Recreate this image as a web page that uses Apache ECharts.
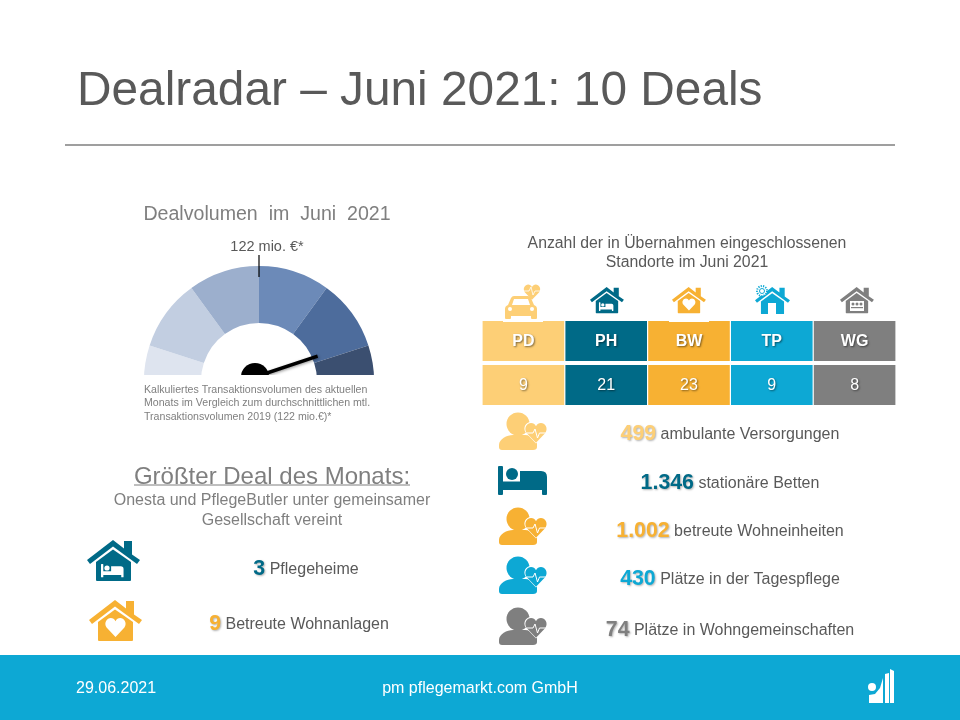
<!DOCTYPE html>
<html>
<head>
<meta charset="utf-8">
<title>Dealradar</title>
<script src="https://cdn.jsdelivr.net/npm/echarts@6/dist/echarts.min.js"></script>
<style>
html,body{margin:0;padding:0;background:#fff}
#chart{width:960px;height:720px}
</style>
</head>
<body>
<div id="chart"></div>
<script>
// gauge: six visible wedges, the rest of the ring stays empty
const gaugeSegments = [36, 36, 36, 36, 36, 36, 144];
const gaugeColors = ['#DEE4EF', '#C2CEE1', '#9CAFCD', '#6C8AB8', '#4D6C9C', '#3B4F70', 'rgba(0,0,0,0)'];
const gaugeMax = 244;
const dealVolume = 219;
const referenceVolume = 122;

// table
const typeCodes = ['PD', 'PH', 'BW', 'TP', 'WG'];
const typeCounts = [9, 21, 23, 9, 8];
const typeColors = ['#FDCF76', '#006A87', '#F7B133', '#0DA8D4', '#7F7F7F'];
const tableRows = ['codes', 'counts'];

// stats on the right
const statValues = ['499', '1.346', '1.002', '430', '74'];
const statLabels = ['ambulante Versorgungen', 'stationäre Betten', 'betreute Wohneinheiten', 'Plätze in der Tagespflege', 'Plätze in Wohngemeinschaften'];
const statY = [433, 482, 530, 578, 629];

// largest deal
const dealValues = ['3', '9'];
const dealLabels = ['Pflegeheime', 'Betreute Wohnanlagen'];

const FONT = '"Liberation Sans", Arial, sans-serif';
const GREY = '#7F7F7F';
const DARK = '#595959';

const graphics = [];   // text and chrome, graphic component
const iconEls = [];    // icon shapes, drawn by a custom series
let zc = 10;

function addPath(d, w, h, ox, oy, s, fill, stroke, lw) {
    // the zero-length anchors pin the path's box to the local w/h box
    iconEls.push({
        type: 'path',
        shape: {
            pathData: d + ` M0,0 L0,0 M${w},${h} L${w},${h}`,
            layout: 'cover',
            x: ox, y: oy, width: w * s, height: h * s
        },
        style: { fill: fill || 'none', stroke: stroke || 'none', lineWidth: lw || 0 }
    });
}

function addCircle(cx, cy, r, fill, stroke, lw, dash) {
    iconEls.push({
        type: 'circle',
        shape: { cx, cy, r },
        style: { fill: fill || 'none', stroke: stroke || 'none', lineWidth: lw || 0, lineDash: dash || null }
    });
}

function addRect(x, y, width, height, fill) {
    iconEls.push({ type: 'rect', shape: { x, y, width, height }, style: { fill } });
}

function addPoly(points, fill) {
    iconEls.push({ type: 'polygon', shape: { points }, style: { fill } });
}

function addText(text, x, y, fontSize, fill, align, extra) {
    graphics.push({
        type: 'text', silent: true, z: zc++,
        style: Object.assign({
            x, y: y + 1.5, text, fill,
            font: `${fontSize}px ${FONT}`,
            align: align || 'center',
            verticalAlign: 'middle'
        }, extra || {})
    });
}

// number + label in one centred line
function addStat(value, label, x, y, color, numSize, labelSize) {
    addText(`{n|${value}} {l|${label}}`, x, y, labelSize, DARK, 'center', {
        rich: {
            n: {
                fontSize: numSize, fontWeight: 'bold', fontFamily: FONT, fill: color,
                textShadowColor: 'rgba(0,0,0,0.3)', textShadowBlur: 2, textShadowOffsetX: 1, textShadowOffsetY: 1
            },
            l: { fontSize: labelSize, fontFamily: FONT, fill: DARK }
        }
    });
}

// icons
const HOUSE_ROOF = 'M0,20 L26,0 L37,8.5 L37,1 L45,1 L45,14.5 L53,20 L50,24 L26,6.5 L3,24 Z';
const HOUSE_BODY = 'M9,22 L26,9.5 L44,22 L44,40 Q44,41 43,41 L10,41 Q9,41 9,40 Z';
const HEART = 'M10,18 L1.5,9 C-1.5,4.5 2,0 5.5,0 C7.5,0 9,1 10,3 C11,1 12.5,0 14.5,0 C18,0 21.5,4.5 18.5,9 Z';
const BED = 'M0,1 Q0,0 1,0 L4,0 Q5,0 5,1 L5,15.5 L22,15.5 L22,5 L43,5 Q49,5 49,11 L49,28 Q49,29 48,29 L45,29 Q44,29 44,28 L44,24 L5,24 L5,28 Q5,29 4,29 L1,29 Q0,29 0,28 Z';
const PERSON_BODY = 'M0,32 C0,26 8,22 14,22 L26,22 C33,22 38,26 38,30 L38,34 Q38,37 34,37 L3,37 Q0,37 0,34 Z';
const PULSE = 'M27.5,20 L34,20 L36,16 L38.5,25 L40.5,20 L47,20';
const CAR = 'M4,10 L7,3 Q8,1 10,1 L24,1 Q26,1 27,3 L30,10 Q33,11 33,14 L33,23 Q33,24 32,24 L28,24 Q27,24 27,23 L27,21 L7,21 L7,23 Q7,24 6,24 L2,24 Q1,24 1,23 L1,14 Q1,11 4,10 Z';

function house(ox, oy, s, color) {
    addPath(HOUSE_ROOF, 53, 42, ox, oy, s, color);
    addPath(HOUSE_BODY, 53, 42, ox, oy, s, color);
}
function bedHouse(ox, oy, s, color) {
    house(ox, oy, s, color);
    addPath(BED, 50, 29, ox + 14 * s, oy + 24 * s, 0.46 * s, '#fff');
    addCircle(ox + 20 * s, oy + 28 * s, 2.6 * s, '#fff');
}
function heartHouse(ox, oy, s, color) {
    house(ox, oy, s, color);
    addPath(HEART, 20, 18, ox + 16 * s, oy + 18 * s, 1.05 * s, '#fff');
}
function person(ox, oy, color) {
    addCircle(ox + 19, oy + 11, 11.5, color);
    addPath(PERSON_BODY, 50, 38, ox, oy, 1, color);
    addPath(HEART, 20, 18, ox + 25, oy + 9, 1.2, '#fff');
    addPath(HEART, 20, 18, ox + 26, oy + 10, 1.1, color);
    addPath(PULSE, 50, 38, ox, oy, 1, null, '#fff', 1);
}

// chrome
graphics.push({ type: 'rect', silent: true, z: zc++, shape: { x: 0, y: 655, width: 960, height: 65 }, style: { fill: '#0DA8D4' } });
graphics.push({ type: 'line', silent: true, z: zc++, shape: { x1: 65, y1: 145, x2: 895, y2: 145 }, style: { stroke: GREY, lineWidth: 1.5 } });
addText('Dealradar – Juni 2021: 10 Deals', 77, 90, 47.8, DARK, 'left');
addText('29.06.2021', 76, 687, 16, '#fff', 'left');
addText('pm pflegemarkt.com GmbH', 480, 687, 16, '#fff');

// logo
addCircle(872, 687, 4, '#fff');
addPoly([[869, 703], [869, 695], [875, 694], [880, 688], [883, 678], [883, 703]], '#fff');
addPoly([[885, 703], [885, 674], [889, 673], [889, 703]], '#fff');
addPoly([[890, 703], [890, 669], [894, 671], [894, 703]], '#fff');

// left column
addText('Dealvolumen\u00a0\u00a0im\u00a0\u00a0Juni\u00a0\u00a02021', 267, 213, 19.6, GREY);
addText('122 mio. €*', 267, 245, 14.5, DARK);
addText('Kalkuliertes Transaktionsvolumen des aktuellen', 144, 388.5, 10.6, GREY, 'left');
addText('Monats im Vergleich zum durchschnittlichen mtl.', 144, 402, 10.6, GREY, 'left');
addText('Transaktionsvolumen 2019 (122 mio.€)*', 144, 415.5, 10.6, GREY, 'left');

addText('Größter Deal des Monats:', 272, 476, 24, GREY);
graphics.push({ type: 'line', silent: true, z: zc++, shape: { x1: 134, y1: 485, x2: 410, y2: 485 }, style: { stroke: GREY, lineWidth: 1 } });
addText('Onesta und PflegeButler unter gemeinsamer', 272, 499.5, 16, GREY);
addText('Gesellschaft vereint', 272, 519.5, 16, GREY);
bedHouse(87, 540, 1, typeColors[1]);
heartHouse(89, 600, 1, typeColors[2]);
addStat(dealValues[0], dealLabels[0], 306, 568, typeColors[1], 21.33, 16);
addStat(dealValues[1], dealLabels[1], 299, 623, typeColors[2], 21.33, 16);

// right column
addText('Anzahl der in Übernahmen eingeschlossenen', 687, 242, 15.8, DARK);
addText('Standorte im Juni 2021', 687, 261, 15.8, DARK);

// car + heart
addPath(CAR, 34, 24, 504, 295, 1, typeColors[0]);
addPath('M8,10 L10,4 L24,4 L26,10 Z', 34, 24, 504, 295, 1, '#fff');
addCircle(510, 309, 2, '#fff');
addCircle(532, 309, 2, '#fff');
addPath(HEART, 20, 18, 523.5, 284.5, 0.85, typeColors[0]);
addPath('M523,291 L529,291 L531,287 L533,295 L535,291 L540,291', 540, 295, 0, 0, 1, null, '#fff', 0.8);
addRect(503, 320, 40, 2, '#fff');

bedHouse(590, 287, 0.64, typeColors[1]);

heartHouse(672, 287, 0.64, typeColors[2]);
addRect(669, 320, 40, 2, '#fff');

house(755, 287, 0.66, typeColors[3]);
addRect(768, 303, 8, 11, '#fff');
addCircle(762, 291, 5, '#fff', typeColors[3], 2, [1.2, 1.2]);
addCircle(762, 291, 2.5, '#fff', typeColors[3], 1);

house(840, 287, 0.64, typeColors[4]);
addRect(850, 301, 14, 10, '#fff');
addCircle(853, 304, 1.5, typeColors[4]);
addCircle(857, 304, 1.5, typeColors[4]);
addCircle(861, 304, 1.5, typeColors[4]);
addRect(851, 307, 12, 1.2, typeColors[4]);

// stat rows
statValues.forEach((v, i) => addStat(v, statLabels[i], 730, statY[i], typeColors[i], 21.33, 16));
person(499, 413, typeColors[0]);
addPath(BED, 50, 29, 498, 466, 1, typeColors[1]);
addCircle(512, 474, 6, typeColors[1]);
person(499, 508, typeColors[2]);
person(499, 557, typeColors[3]);
person(499, 608, typeColors[4]);

// hides everything of the ring below the cut line, text above sits on top
const gaugeMask = { type: 'rect', silent: true, z: 4, shape: { x: 130, y: 375, width: 260, height: 55 }, style: { fill: '#fff' } };

const tableData = [];
typeCodes.forEach((code, i) => {
    tableData.push([i, 0, code, i]);
    tableData.push([i, 1, typeCounts[i], i]);
});

const chart = echarts.init(document.getElementById('chart'), null, { renderer: 'canvas' });
chart.setOption({
    animation: false,
    backgroundColor: '#fff',
    grid: { left: 482, top: 319, width: 414, height: 88 },
    xAxis: { type: 'category', data: typeCodes, show: false },
    yAxis: { type: 'category', data: tableRows, inverse: true, show: false },
    graphic: { elements: [gaugeMask].concat(graphics) },
    series: [
        {
            type: 'pie',
            z: 1,
            silent: true,
            center: [259, 381],
            radius: [58, 115],
            startAngle: 198,
            label: { show: false },
            labelLine: { show: false },
            data: gaugeSegments.map((v, i) => ({ value: v, itemStyle: { color: gaugeColors[i] } }))
        },
        {
            // needle
            type: 'gauge',
            z: 3,
            silent: true,
            center: [255, 377],
            radius: 66,
            startAngle: 180,
            endAngle: 0,
            min: 0,
            max: gaugeMax,
            axisLine: { show: false },
            axisTick: { show: false },
            splitLine: { show: false },
            axisLabel: { show: false },
            title: { show: false },
            detail: { show: false },
            pointer: { icon: 'rect', length: 66, width: 3.5, itemStyle: { color: '#000', shadowColor: 'rgba(0,0,0,0.4)', shadowBlur: 3, shadowOffsetX: 1, shadowOffsetY: 1 } },
            anchor: { show: true, showAbove: true, size: 28, itemStyle: { color: '#000', borderWidth: 0 } },
            data: [{ value: dealVolume }]
        },
        {
            // reference mark at the average volume
            type: 'gauge',
            z: 3,
            silent: true,
            center: [259, 381],
            radius: 126,
            startAngle: 180,
            endAngle: 0,
            min: 0,
            max: gaugeMax,
            axisLine: { show: false },
            axisTick: { show: false },
            splitLine: { show: false },
            axisLabel: { show: false },
            title: { show: false },
            detail: { show: false },
            anchor: { show: false },
            pointer: { icon: 'rect', length: 22, width: 1.2, offsetCenter: [0, -104], itemStyle: { color: '#000' } },
            data: [{ value: referenceVolume }]
        },
        {
            // table cells
            type: 'custom',
            silent: true,
            coordinateSystem: 'cartesian2d',
            encode: { x: 0, y: 1 },
            data: tableData,
            renderItem: (params, api) => {
                const p = api.coord([api.value(0), api.value(1)]);
                const s = api.size([1, 1]);
                const w = s[0] - 1.2, h = s[1] - 4;
                const isCode = api.value(1) === 0;
                return {
                    type: 'rect',
                    shape: { x: p[0] - w / 2, y: p[1] - h / 2, width: w, height: h },
                    style: { fill: typeColors[api.value(3)] },
                    textContent: {
                        type: 'text',
                        style: {
                            text: String(tableData[params.dataIndex][2]),
                            fontFamily: FONT,
                            fontSize: 16,
                            fontWeight: isCode ? 'bold' : 'normal',
                            fill: '#fff',
                            textShadowColor: 'rgba(0,0,0,0.5)',
                            textShadowBlur: 2,
                            textShadowOffsetX: 1,
                            textShadowOffsetY: 1
                        }
                    },
                    textConfig: { position: 'inside', offset: [0, 1] }
                };
            }
        },
        {
            // icons
            type: 'custom',
            z: 200,
            silent: true,
            coordinateSystem: 'none',
            data: [[0]],
            renderItem: () => ({ type: 'group', children: iconEls })
        }
    ]
});
</script>
</body>
</html>
